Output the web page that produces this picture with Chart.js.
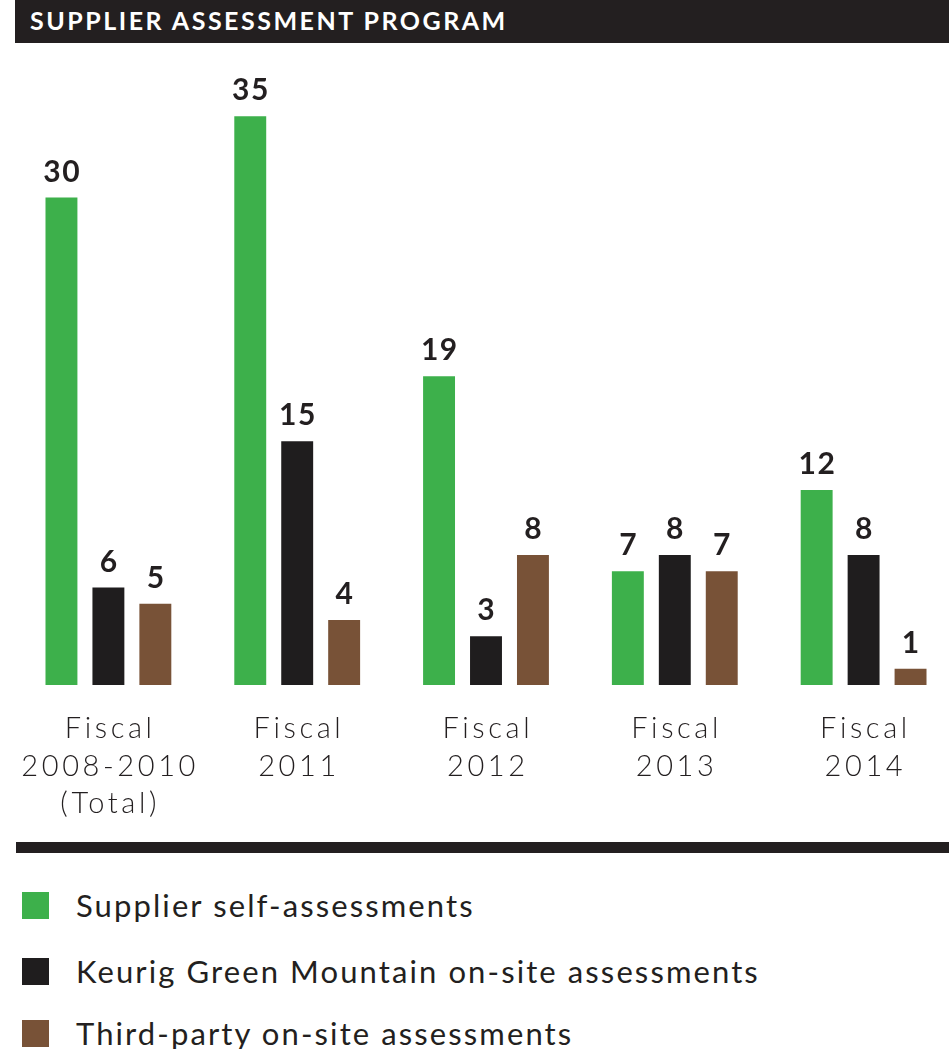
<!DOCTYPE html>
<html>
<head>
<meta charset="utf-8">
<script src="https://cdn.jsdelivr.net/npm/chart.js@4/dist/chart.umd.min.js"></script>
<style>
  html, body { margin: 0; padding: 0; background: #fff; overflow: hidden; }
  #page { position: relative; width: 949px; height: 1049px; overflow: hidden; font-family: Lato, sans-serif; }
  #title {
    position: absolute; left: 15px; top: 0; width: 934px; height: 43px;
    background: #231f20; color: #fff; font-weight: 700; font-size: 25px;
    line-height: 41px; padding-left: 15px; box-sizing: border-box; letter-spacing: 2.5px;
  }
  #chart-wrap { position: absolute; left: 0; top: 0; width: 958px; height: 830px; }
  #rule { position: absolute; left: 16px; top: 842px; width: 933px; height: 11px; background: #231f20; }
  .legend-item { position: absolute; left: 22px; height: 27px; display: flex; align-items: center; }
  .legend-item .sw { width: 27px; height: 27px; margin-right: 27px; }
  .legend-item span { font-size: 31px; color: #231f20; white-space: nowrap; letter-spacing: 2.1px; position: relative; top: -1px; }
</style>
</head>
<body>
<div id="page">
  <div id="chart-wrap"><canvas id="assessChart" width="958" height="830"></canvas></div>
  <div id="title">SUPPLIER ASSESSMENT PROGRAM</div>
  <div id="rule"></div>
  <div id="legend"></div>
</div>
<script>
// Periodos fiscales (etiquetas en varias lineas)
const categories = [
  ['Fiscal', '2008-2010', '(Total)'],
  ['Fiscal', '2011'],
  ['Fiscal', '2012'],
  ['Fiscal', '2013'],
  ['Fiscal', '2014']
];

// Series
const selfAssessments = [30, 35, 19, 7, 12];
const kgmOnSite = [6, 15, 3, 8, 8];
const thirdPartyOnSite = [5, 4, 8, 7, 1];

const seriesNames = [
  'Supplier self-assessments',
  'Keurig Green Mountain on-site assessments',
  'Third-party on-site assessments'
];
const seriesColors = ['#3db04b', '#1f1d1e', '#785237'];

// texto con espaciado, centrado compensando el espacio final
function spacedText(ctx, text, x, y, spacing) {
  ctx.letterSpacing = spacing + 'px';
  ctx.fillText(text, x + spacing / 2, y);
}

// Numeros encima de cada barra + etiquetas del eje X
const barText = {
  id: 'barText',
  afterDatasetsDraw(chart) {
    const ctx = chart.ctx;
    ctx.save();
    ctx.fillStyle = '#231f20';
    ctx.textAlign = 'center';
    ctx.textBaseline = 'alphabetic';

    ctx.font = '700 30px Lato, sans-serif';
    chart.data.datasets.forEach((ds, i) => {
      chart.getDatasetMeta(i).data.forEach((bar, j) => {
        spacedText(ctx, String(ds.data[j]), bar.x, bar.y - 16, 1.5);
      });
    });

    ctx.font = '300 29px Lato, sans-serif';
    const xs = chart.scales.x;
    const base = chart.chartArea.bottom;
    chart.data.labels.forEach((lines, i) => {
      const x = xs.getPixelForValue(i);
      lines.forEach((line, k) => {
        spacedText(ctx, line, x, base + 53 + k * 37.5, 3.6);
      });
    });
    ctx.restore();
  }
};

const datasets = [selfAssessments, kgmOnSite, thirdPartyOnSite].map((values, i) => ({
  label: seriesNames[i],
  data: values,
  backgroundColor: seriesColors[i],
  borderWidth: 0,
  categoryPercentage: 0.746,
  barPercentage: 0.68
}));

new Chart(document.getElementById('assessChart'), {
  type: 'bar',
  data: { labels: categories, datasets },
  options: {
    responsive: false,
    animation: false,
    layout: { padding: { left: 14, right: 0, top: 35, bottom: 145 } },
    plugins: { legend: { display: false }, tooltip: { enabled: false } },
    scales: {
      x: {
        grid: { display: false, drawTicks: false },
        border: { display: false },
        ticks: { display: false }
      },
      y: {
        display: false,
        min: 0,
        max: 40
      }
    }
  },
  plugins: [barText]
});

// Leyenda en HTML
const legendTops = [892, 958, 1020];
const legendBox = document.getElementById('legend');
seriesNames.forEach((name, i) => {
  legendBox.innerHTML += `
    <div class="legend-item" style="top:${legendTops[i]}px">
      <div class="sw" style="background:${seriesColors[i]}"></div>
      <span>${name}</span>
    </div>`;
});
</script>
</body>
</html>
